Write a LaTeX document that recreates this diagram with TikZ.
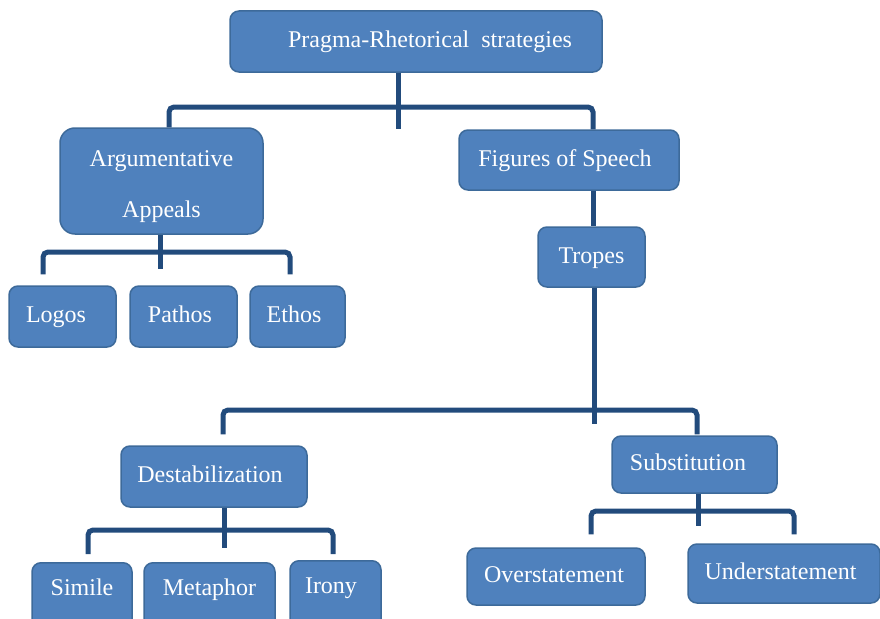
\documentclass[tikz,border=0pt]{standalone}
\usepackage{fontspec}
\setmainfont{Liberation Serif}
\begin{document}
\begin{tikzpicture}[x=1pt,y=-1pt,
  box/.style={draw=boxline, fill=boxfill, line width=1.5pt, rounded corners=9pt,
    text=white, font=\fontsize{24}{51}\selectfont, inner sep=0pt,
    text height=17pt, text depth=5pt, align=center},
  lowbox/.style={box, anchor=north, minimum height=70pt, text depth=21pt},
  conn/.style={draw=connc, line width=5pt, rounded corners=5pt}]
\definecolor{boxfill}{HTML}{4F81BD}
\definecolor{boxline}{HTML}{3D6A9A}
\definecolor{connc}{HTML}{224B7C}
\useasboundingbox (0,0) rectangle (880,618);
% nodes
\node[box, minimum width=372pt, minimum height=61pt] (root) at (416,41.5) {\hspace*{28pt}Pragma-Rhetorical\ \ strategies};
\node[box, minimum width=203pt, minimum height=106pt, rounded corners=15pt, text height=, text depth=] (argu) at (161.5,181) {\rule{0pt}{27pt}Argumentative\\Appeals};
\node[box, minimum width=220pt, minimum height=60pt] (figs) at (569,160) {Figures of Speech\hspace*{8pt}};
\node[box, minimum width=107pt, minimum height=60pt] (tropes) at (591.5,257) {Tropes};
\node[box, minimum width=107pt, minimum height=61pt] (logos) at (62.5,316.5) {Logos\hspace*{13pt}};
\node[box, minimum width=107pt, minimum height=61pt] (pathos) at (183.5,316.5) {Pathos\hspace*{7pt}};
\node[box, minimum width=95pt, minimum height=61pt] (ethos) at (297.5,316.5) {Ethos\hspace*{7pt}};
\node[box, minimum width=186pt, minimum height=61pt] (destab) at (214,476.5) {Destabilization\hspace*{8pt}};
\node[box, minimum width=165pt, minimum height=57pt] (subst) at (694.5,464.5) {Substitution\hspace*{13pt}};
\node[lowbox, minimum width=100pt] (simile) at (82,562) {Simile};
\node[lowbox, minimum width=131pt] (metaphor) at (209.5,562) {Metaphor};
\node[lowbox, minimum width=91pt] (irony) at (335.5,560) {Irony\hspace*{9pt}};
\node[box, minimum width=178pt, minimum height=57pt] (over) at (556,576.5) {Overstatement\hspace*{4pt}};
\node[box, minimum width=192pt, minimum height=59pt] (under) at (784,573.5) {Understatement\hspace*{7pt}};
% connectors: level 1
\draw[conn] ([xshift=-18pt]root.south) -- ++(0,56);
\draw[conn] ([xshift=7.5pt]argu.north) |- (398,107) -| ([xshift=24pt]figs.north);
% figures -> tropes
\draw[conn] ([xshift=24pt]figs.south) -- ([xshift=1.5pt]tropes.north);
% tropes -> destab / subst
\draw[conn] ([xshift=2.5pt]tropes.south) -- ++(0,136);
\draw[conn] ([xshift=9pt,yshift=11pt]destab.north) |- (594,410) -| ([xshift=2.5pt,yshift=1pt]subst.north);
% argumentative -> logos/pathos/ethos
\draw[conn] ([xshift=-1.5pt]argu.south) -- ++(0,34);
\draw[conn] ([xshift=-19.5pt,yshift=11pt]logos.north) |- (160,252) -| ([xshift=-7.5pt,yshift=11pt]ethos.north);
% destab -> simile/metaphor/irony
\draw[conn] ([xshift=10pt]destab.south) -- ++(0,40);
\draw[conn] ([xshift=6pt,yshift=8pt]simile.north) |- (224,530) -| ([xshift=-2.5pt,yshift=6pt]irony.north);
% subst -> over/under
\draw[conn] ([xshift=3.5pt]subst.south) -- ++(0,32);
\draw[conn] ([xshift=35pt,yshift=13pt]over.north) |- (698,511) -| ([xshift=10pt,yshift=9pt]under.north);
\end{tikzpicture}
\end{document}
